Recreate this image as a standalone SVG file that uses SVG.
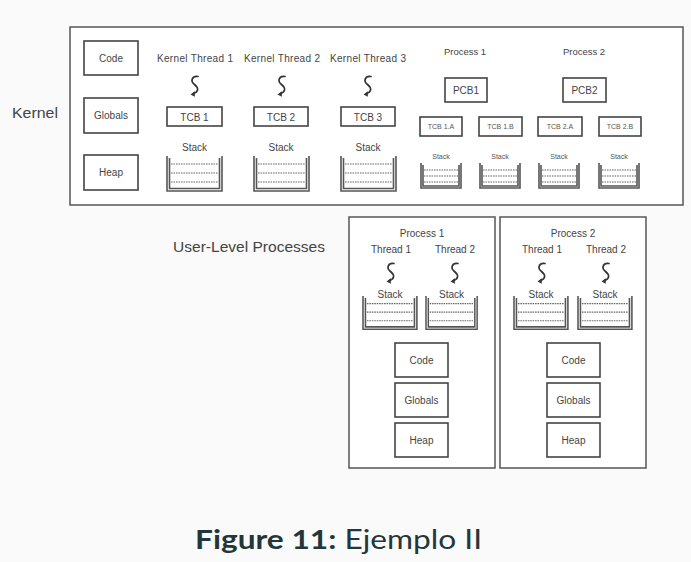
<svg xmlns="http://www.w3.org/2000/svg" xmlns:xlink="http://www.w3.org/1999/xlink" width="691" height="562" viewBox="0 0 691 562">
<style>
.frame{fill:none;stroke:#555;stroke-width:1.5}
.box{fill:#fff;stroke:#444;stroke-width:1.6}
.t{font-family:"Liberation Sans",Arial,sans-serif;fill:#444;text-anchor:middle}
.s10{font-size:10px}
.s9{font-size:9.5px}
.s7{font-size:7px;fill:#555}
.lbl{font-family:"Liberation Sans",Arial,sans-serif;fill:#444;font-size:14.5px}
.bin{fill:none;stroke:#555;stroke-width:1.6}
.dash{stroke:#666;stroke-width:1.2;stroke-dasharray:1.6 0.9}
.sq{fill:none;stroke:#333;stroke-width:1.7;stroke-linecap:round}
</style>
<defs>
<g id="sq">
<path class="sq" d="M6 0.5 C0 -0.5,-2 5,2.5 8.5 C7 12,6.5 16,1.5 17.5"/>
<path d="M-1.5 18.5 L2.8 15.2 L2.8 20.8 Z" fill="#333"/>
</g>
<g id="stackL">
<path class="bin" d="M0 0 V35 H55 V0"/>
<path class="bin" d="M2.5 2 V32.5 H52.5 V2" stroke-width="0.8"/>
<line class="dash" x1="4" y1="8" x2="51" y2="8"/>
<line class="dash" x1="4" y1="17" x2="51" y2="17"/>
<line class="dash" x1="4" y1="26" x2="51" y2="26"/>
</g>
<g id="stackS">
<path class="bin" d="M0 0 V25 H40 V0" stroke-width="1.3"/>
<path class="bin" d="M2 2 V23 H38 V2" stroke-width="0.7"/>
<line class="dash" x1="3" y1="7" x2="37" y2="7" stroke-width="0.9"/>
<line class="dash" x1="3" y1="13" x2="37" y2="13" stroke-width="0.9"/>
<line class="dash" x1="3" y1="19" x2="37" y2="19" stroke-width="0.9"/>
</g>
</defs>
<rect width="691" height="562" fill="#fafafa"/>

<g id="kernel-label">
<text class="lbl" x="12" y="118" textLength="46" lengthAdjust="spacingAndGlyphs">Kernel</text>
</g>
<g id="user-label">
<text class="lbl" x="173" y="252" textLength="152" lengthAdjust="spacingAndGlyphs">User-Level Processes</text>
</g>

<g id="kernel">
<rect x="70" y="27" width="613" height="178" fill="#fff" stroke="#555" stroke-width="1.5"/>
<g id="k-code"><rect class="box" x="84" y="41" width="54" height="34"/><text class="t s10" x="111" y="62">Code</text></g>
<g id="k-globals"><rect class="box" x="84" y="98" width="54" height="35"/><text class="t s10" x="111" y="119">Globals</text></g>
<g id="k-heap"><rect class="box" x="84" y="155" width="54" height="35"/><text class="t s10" x="111" y="176">Heap</text></g>

<g id="kt1">
<text class="t s10" x="195" y="62" textLength="76">Kernel Thread 1</text>
<use xlink:href="#sq" x="192" y="76"/>
<rect class="box" x="167" y="107" width="55" height="19"/><text class="t s10" x="194.5" y="121">TCB 1</text>
<text class="t s10" x="194.5" y="151">Stack</text>
<use xlink:href="#stackL" x="167" y="156"/>
</g>
<g id="kt2">
<text class="t s10" x="282" y="62" textLength="76">Kernel Thread 2</text>
<use xlink:href="#sq" x="279" y="76"/>
<rect class="box" x="254" y="107" width="54" height="19"/><text class="t s10" x="281" y="121">TCB 2</text>
<text class="t s10" x="281" y="151">Stack</text>
<use xlink:href="#stackL" x="254" y="156"/>
</g>
<g id="kt3">
<text class="t s10" x="368" y="62" textLength="76">Kernel Thread 3</text>
<use xlink:href="#sq" x="365" y="76"/>
<rect class="box" x="341" y="107" width="54" height="19"/><text class="t s10" x="368" y="121">TCB 3</text>
<text class="t s10" x="368" y="151">Stack</text>
<use xlink:href="#stackL" x="341" y="156"/>
</g>

<g id="kp1">
<text class="t s9" x="465" y="55" fill="#666">Process 1</text>
<rect class="box" x="445" y="78" width="42" height="24"/><text class="t s10" x="466" y="94" fill="#555">PCB1</text>
<rect class="box" x="420" y="117" width="42" height="19" stroke-width="1.3"/><text class="t s7" x="441" y="129">TCB 1.A</text>
<rect class="box" x="479" y="117" width="43" height="19" stroke-width="1.3"/><text class="t s7" x="500.5" y="129">TCB 1.B</text>
<text class="t s7" x="441" y="159">Stack</text>
<use xlink:href="#stackS" x="421" y="163"/>
<text class="t s7" x="500" y="159">Stack</text>
<use xlink:href="#stackS" x="480" y="163"/>
</g>
<g id="kp2">
<text class="t s9" x="584" y="55" fill="#666">Process 2</text>
<rect class="box" x="563" y="78" width="43" height="24"/><text class="t s10" x="584.5" y="94" fill="#555">PCB2</text>
<rect class="box" x="538" y="117" width="44" height="19" stroke-width="1.3"/><text class="t s7" x="560" y="129">TCB 2.A</text>
<rect class="box" x="599" y="117" width="42" height="19" stroke-width="1.3"/><text class="t s7" x="620" y="129">TCB 2.B</text>
<text class="t s7" x="559" y="159">Stack</text>
<use xlink:href="#stackS" x="539" y="163"/>
<text class="t s7" x="619" y="159">Stack</text>
<use xlink:href="#stackS" x="599" y="163"/>
</g>
</g>

<g id="up1">
<rect x="349" y="217" width="146" height="251" fill="#fff" stroke="#555" stroke-width="1.5"/>
<text class="t s10" x="422" y="237">Process 1</text>
<text class="t s10" x="391" y="253">Thread 1</text>
<text class="t s10" x="455" y="253">Thread 2</text>
<use xlink:href="#sq" x="388" y="263"/>
<use xlink:href="#sq" x="452" y="263"/>
<text class="t s10" x="390" y="298">Stack</text>
<text class="t s10" x="451.5" y="298">Stack</text>
<use xlink:href="#stackL" transform="translate(363 296) scale(0.98 0.95)"/>
<use xlink:href="#stackL" transform="translate(426 296) scale(0.93 0.95)"/>
<rect class="box" x="395" y="343" width="53" height="34"/><text class="t s10" x="421.5" y="364">Code</text>
<rect class="box" x="395" y="383" width="53" height="34"/><text class="t s10" x="421.5" y="404">Globals</text>
<rect class="box" x="395" y="423" width="53" height="34"/><text class="t s10" x="421.5" y="444">Heap</text>
</g>

<g id="up2">
<rect x="500" y="217" width="146" height="251" fill="#fff" stroke="#555" stroke-width="1.5"/>
<text class="t s10" x="573" y="237">Process 2</text>
<text class="t s10" x="542" y="253">Thread 1</text>
<text class="t s10" x="606" y="253">Thread 2</text>
<use xlink:href="#sq" x="539" y="263"/>
<use xlink:href="#sq" x="603" y="263"/>
<text class="t s10" x="541" y="298">Stack</text>
<text class="t s10" x="605" y="298">Stack</text>
<use xlink:href="#stackL" transform="translate(514 296) scale(0.98 0.95)"/>
<use xlink:href="#stackL" transform="translate(578 296) scale(0.98 0.95)"/>
<rect class="box" x="547" y="343" width="53" height="34"/><text class="t s10" x="573.5" y="364">Code</text>
<rect class="box" x="547" y="383" width="53" height="34"/><text class="t s10" x="573.5" y="404">Globals</text>
<rect class="box" x="547" y="423" width="53" height="34"/><text class="t s10" x="573.5" y="444">Heap</text>
</g>

<g id="caption">
<text x="195" y="549" font-family="Lato,'DejaVu Sans',sans-serif" font-size="27" fill="#23373b" textLength="287" lengthAdjust="spacingAndGlyphs"><tspan font-weight="bold">Figure 11:</tspan> Ejemplo II</text>
</g>
</svg>
